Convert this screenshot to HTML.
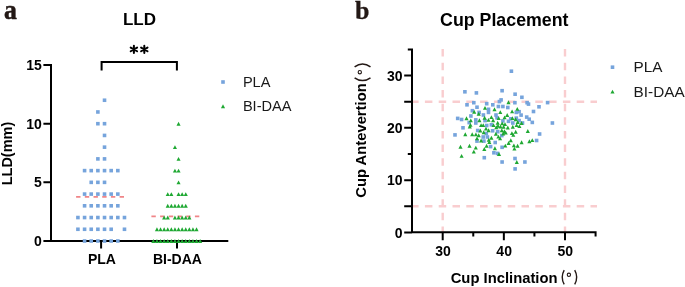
<!DOCTYPE html>
<html><head><meta charset="utf-8"><style>
html,body{margin:0;padding:0;background:#fff;width:685px;height:287px;overflow:hidden}
svg{display:block;will-change:transform}
text{font-family:"Liberation Sans",sans-serif;fill:#000}
.b{font-weight:bold}
.serif{font-family:"Liberation Serif",serif;font-weight:bold;fill:#231815}
.r{font-weight:normal;fill:#1a1a1a}
</style></head><body>
<svg width="685" height="287" viewBox="0 0 685 287">
<rect width="685" height="287" fill="#fff"/>
<text transform="translate(4.1 18.5) scale(0.92 1)" class="serif" font-size="28" stroke="#231815" stroke-width="0.5">a</text>
<text transform="translate(355 18.8)" class="serif" font-size="26" stroke="#231815" stroke-width="0.3">b</text>
<text x="139.5" y="24.7" text-anchor="middle" class="b" font-size="17">LLD</text>
<text x="504.3" y="26" text-anchor="middle" class="b" font-size="17.8">Cup Placement</text>
<path d="M133.90 45.80V53.00M130.70 47.55L137.10 51.25M130.70 51.25L137.10 47.55" stroke="#000" stroke-width="2" stroke-linecap="round"/>
<path d="M144.30 45.80V53.00M141.10 47.55L147.50 51.25M141.10 51.25L147.50 47.55" stroke="#000" stroke-width="2" stroke-linecap="round"/>
<path d="M101.6 70.6V62H176.9V70.6" fill="none" stroke="#000" stroke-width="2"/>
<path d="M51 64V242M43.4 65H51M43.4 123.65H51M43.4 182.35H51M43.4 241H228.3M101.1 241V248.6M177 241V248.6" fill="none" stroke="#000" stroke-width="2"/>
<text x="41.8" y="70.15" text-anchor="end" class="b" font-size="14">15</text>
<text x="41.8" y="128.80" text-anchor="end" class="b" font-size="14">10</text>
<text x="41.8" y="187.45" text-anchor="end" class="b" font-size="14">5</text>
<text x="41.8" y="246.10" text-anchor="end" class="b" font-size="14">0</text>
<text x="101.9" y="264" text-anchor="middle" class="b" font-size="14">PLA</text>
<text x="177.4" y="264" text-anchor="middle" class="b" font-size="14">BI-DAA</text>
<text transform="translate(12.4 153.5) rotate(-90)" text-anchor="middle" class="b" font-size="14.5">LLD(mm)</text>
<path d="M76.1 196.8H125" stroke="#f08588" stroke-width="1.7" stroke-dasharray="4.4 4.3"/>
<path d="M151.4 216.3H200.5" stroke="#f08588" stroke-width="1.7" stroke-dasharray="4.4 4.3"/>
<rect x="102.73" y="98.44" width="3.6" height="3.6" fill="#76a4dc"/>
<rect x="96.08" y="110.17" width="3.6" height="3.6" fill="#76a4dc"/>
<rect x="96.08" y="121.90" width="3.6" height="3.6" fill="#76a4dc"/>
<rect x="102.73" y="121.90" width="3.6" height="3.6" fill="#76a4dc"/>
<rect x="102.73" y="133.63" width="3.6" height="3.6" fill="#76a4dc"/>
<rect x="102.73" y="145.36" width="3.6" height="3.6" fill="#76a4dc"/>
<rect x="96.08" y="157.09" width="3.6" height="3.6" fill="#76a4dc"/>
<rect x="102.73" y="157.09" width="3.6" height="3.6" fill="#76a4dc"/>
<rect x="82.78" y="168.82" width="3.6" height="3.6" fill="#76a4dc"/>
<rect x="89.42" y="168.82" width="3.6" height="3.6" fill="#76a4dc"/>
<rect x="96.08" y="168.82" width="3.6" height="3.6" fill="#76a4dc"/>
<rect x="102.73" y="168.82" width="3.6" height="3.6" fill="#76a4dc"/>
<rect x="109.38" y="168.82" width="3.6" height="3.6" fill="#76a4dc"/>
<rect x="116.03" y="168.82" width="3.6" height="3.6" fill="#76a4dc"/>
<rect x="89.42" y="180.55" width="3.6" height="3.6" fill="#76a4dc"/>
<rect x="96.08" y="180.55" width="3.6" height="3.6" fill="#76a4dc"/>
<rect x="102.73" y="180.55" width="3.6" height="3.6" fill="#76a4dc"/>
<rect x="82.78" y="192.28" width="3.6" height="3.6" fill="#76a4dc"/>
<rect x="89.42" y="192.28" width="3.6" height="3.6" fill="#76a4dc"/>
<rect x="96.08" y="192.28" width="3.6" height="3.6" fill="#76a4dc"/>
<rect x="102.73" y="192.28" width="3.6" height="3.6" fill="#76a4dc"/>
<rect x="109.38" y="192.28" width="3.6" height="3.6" fill="#76a4dc"/>
<rect x="116.03" y="192.28" width="3.6" height="3.6" fill="#76a4dc"/>
<rect x="82.78" y="204.01" width="3.6" height="3.6" fill="#76a4dc"/>
<rect x="89.42" y="204.01" width="3.6" height="3.6" fill="#76a4dc"/>
<rect x="96.08" y="204.01" width="3.6" height="3.6" fill="#76a4dc"/>
<rect x="102.73" y="204.01" width="3.6" height="3.6" fill="#76a4dc"/>
<rect x="109.38" y="204.01" width="3.6" height="3.6" fill="#76a4dc"/>
<rect x="116.03" y="204.01" width="3.6" height="3.6" fill="#76a4dc"/>
<rect x="76.12" y="215.74" width="3.6" height="3.6" fill="#76a4dc"/>
<rect x="82.78" y="215.74" width="3.6" height="3.6" fill="#76a4dc"/>
<rect x="89.42" y="215.74" width="3.6" height="3.6" fill="#76a4dc"/>
<rect x="96.08" y="215.74" width="3.6" height="3.6" fill="#76a4dc"/>
<rect x="102.73" y="215.74" width="3.6" height="3.6" fill="#76a4dc"/>
<rect x="109.38" y="215.74" width="3.6" height="3.6" fill="#76a4dc"/>
<rect x="116.03" y="215.74" width="3.6" height="3.6" fill="#76a4dc"/>
<rect x="122.68" y="215.74" width="3.6" height="3.6" fill="#76a4dc"/>
<rect x="76.12" y="227.47" width="3.6" height="3.6" fill="#76a4dc"/>
<rect x="82.78" y="227.47" width="3.6" height="3.6" fill="#76a4dc"/>
<rect x="89.42" y="227.47" width="3.6" height="3.6" fill="#76a4dc"/>
<rect x="96.08" y="227.47" width="3.6" height="3.6" fill="#76a4dc"/>
<rect x="102.73" y="227.47" width="3.6" height="3.6" fill="#76a4dc"/>
<rect x="109.38" y="227.47" width="3.6" height="3.6" fill="#76a4dc"/>
<rect x="122.68" y="227.47" width="3.6" height="3.6" fill="#76a4dc"/>
<rect x="82.78" y="239.20" width="3.6" height="3.6" fill="#76a4dc"/>
<rect x="89.42" y="239.20" width="3.6" height="3.6" fill="#76a4dc"/>
<rect x="96.08" y="239.20" width="3.6" height="3.6" fill="#76a4dc"/>
<rect x="102.73" y="239.20" width="3.6" height="3.6" fill="#76a4dc"/>
<rect x="109.38" y="239.20" width="3.6" height="3.6" fill="#76a4dc"/>
<rect x="116.03" y="239.20" width="3.6" height="3.6" fill="#76a4dc"/>
<path d="M178.55 121.75L180.60 125.65L176.50 125.65Z" fill="#1ea832"/>
<path d="M174.95 145.21L177.00 149.11L172.90 149.11Z" fill="#1ea832"/>
<path d="M178.55 156.94L180.60 160.84L176.50 160.84Z" fill="#1ea832"/>
<path d="M174.95 168.67L177.00 172.57L172.90 172.57Z" fill="#1ea832"/>
<path d="M178.55 168.67L180.60 172.57L176.50 172.57Z" fill="#1ea832"/>
<path d="M178.55 180.40L180.60 184.30L176.50 184.30Z" fill="#1ea832"/>
<path d="M167.75 192.13L169.80 196.03L165.70 196.03Z" fill="#1ea832"/>
<path d="M171.35 192.13L173.40 196.03L169.30 196.03Z" fill="#1ea832"/>
<path d="M178.55 192.13L180.60 196.03L176.50 196.03Z" fill="#1ea832"/>
<path d="M182.15 192.13L184.20 196.03L180.10 196.03Z" fill="#1ea832"/>
<path d="M185.75 192.13L187.80 196.03L183.70 196.03Z" fill="#1ea832"/>
<path d="M167.75 203.86L169.80 207.76L165.70 207.76Z" fill="#1ea832"/>
<path d="M171.35 203.86L173.40 207.76L169.30 207.76Z" fill="#1ea832"/>
<path d="M174.95 203.86L177.00 207.76L172.90 207.76Z" fill="#1ea832"/>
<path d="M178.55 203.86L180.60 207.76L176.50 207.76Z" fill="#1ea832"/>
<path d="M182.15 203.86L184.20 207.76L180.10 207.76Z" fill="#1ea832"/>
<path d="M185.75 203.86L187.80 207.76L183.70 207.76Z" fill="#1ea832"/>
<path d="M164.15 215.59L166.20 219.49L162.10 219.49Z" fill="#1ea832"/>
<path d="M167.75 215.59L169.80 219.49L165.70 219.49Z" fill="#1ea832"/>
<path d="M174.95 215.59L177.00 219.49L172.90 219.49Z" fill="#1ea832"/>
<path d="M178.55 215.59L180.60 219.49L176.50 219.49Z" fill="#1ea832"/>
<path d="M182.15 215.59L184.20 219.49L180.10 219.49Z" fill="#1ea832"/>
<path d="M185.75 215.59L187.80 219.49L183.70 219.49Z" fill="#1ea832"/>
<path d="M189.35 215.59L191.40 219.49L187.30 219.49Z" fill="#1ea832"/>
<path d="M156.95 227.32L159.00 231.22L154.90 231.22Z" fill="#1ea832"/>
<path d="M160.55 227.32L162.60 231.22L158.50 231.22Z" fill="#1ea832"/>
<path d="M164.15 227.32L166.20 231.22L162.10 231.22Z" fill="#1ea832"/>
<path d="M167.75 227.32L169.80 231.22L165.70 231.22Z" fill="#1ea832"/>
<path d="M171.35 227.32L173.40 231.22L169.30 231.22Z" fill="#1ea832"/>
<path d="M174.95 227.32L177.00 231.22L172.90 231.22Z" fill="#1ea832"/>
<path d="M178.55 227.32L180.60 231.22L176.50 231.22Z" fill="#1ea832"/>
<path d="M182.15 227.32L184.20 231.22L180.10 231.22Z" fill="#1ea832"/>
<path d="M185.75 227.32L187.80 231.22L183.70 231.22Z" fill="#1ea832"/>
<path d="M189.35 227.32L191.40 231.22L187.30 231.22Z" fill="#1ea832"/>
<path d="M192.95 227.32L195.00 231.22L190.90 231.22Z" fill="#1ea832"/>
<path d="M196.55 227.32L198.60 231.22L194.50 231.22Z" fill="#1ea832"/>
<path d="M153.35 239.05L155.40 242.95L151.30 242.95Z" fill="#1ea832"/>
<path d="M156.95 239.05L159.00 242.95L154.90 242.95Z" fill="#1ea832"/>
<path d="M160.55 239.05L162.60 242.95L158.50 242.95Z" fill="#1ea832"/>
<path d="M164.15 239.05L166.20 242.95L162.10 242.95Z" fill="#1ea832"/>
<path d="M167.75 239.05L169.80 242.95L165.70 242.95Z" fill="#1ea832"/>
<path d="M171.35 239.05L173.40 242.95L169.30 242.95Z" fill="#1ea832"/>
<path d="M174.95 239.05L177.00 242.95L172.90 242.95Z" fill="#1ea832"/>
<path d="M178.55 239.05L180.60 242.95L176.50 242.95Z" fill="#1ea832"/>
<path d="M182.15 239.05L184.20 242.95L180.10 242.95Z" fill="#1ea832"/>
<path d="M185.75 239.05L187.80 242.95L183.70 242.95Z" fill="#1ea832"/>
<path d="M189.35 239.05L191.40 242.95L187.30 242.95Z" fill="#1ea832"/>
<path d="M192.95 239.05L195.00 242.95L190.90 242.95Z" fill="#1ea832"/>
<path d="M196.55 239.05L198.60 242.95L194.50 242.95Z" fill="#1ea832"/>
<path d="M200.15 239.05L202.20 242.95L198.10 242.95Z" fill="#1ea832"/>
<rect x="221.20" y="80.20" width="3.6" height="3.6" fill="#76a4dc"/>
<text x="242.9" y="86.9" class="r" font-size="14.6">PLA</text>
<path d="M223.00 104.25L225.05 108.15L220.95 108.15Z" fill="#1ea832"/>
<text x="242.9" y="111.1" class="r" font-size="14.6">BI-DAA</text>
<path d="M442.70 49.1V232" stroke="#f9cdcf" stroke-width="2.4" stroke-dasharray="7.5 6.14"/>
<path d="M565.00 49.1V232" stroke="#f9cdcf" stroke-width="2.4" stroke-dasharray="7.5 6.14"/>
<path d="M411.1 101.70H597" stroke="#f9cdcf" stroke-width="2.4" stroke-dasharray="7.5 6.3"/>
<path d="M411.1 206.30H597" stroke="#f9cdcf" stroke-width="2.4" stroke-dasharray="7.5 6.3"/>
<path d="M412 48.6V233.3M411 232.3H596.58M595.58 232.3V236.6M404.2 75.55H412M404.2 127.85H412M404.2 180.15H412M404.2 232.45H412M404.2 101.70H412M404.2 206.30H412M407.8 49.40H412M407.8 154.00H412M442.70 232.3V240.3M503.85 232.3V240.3M565.00 232.3V240.3M473.27 232.3V236.6M534.42 232.3V236.6" fill="none" stroke="#000" stroke-width="2"/>
<text x="402.6" y="80.75" text-anchor="end" class="b" font-size="14">30</text>
<text x="402.6" y="133.05" text-anchor="end" class="b" font-size="14">20</text>
<text x="402.6" y="185.35" text-anchor="end" class="b" font-size="14">10</text>
<text x="402.6" y="237.65" text-anchor="end" class="b" font-size="14">0</text>
<text x="443.00" y="255.7" text-anchor="middle" class="b" font-size="14">30</text>
<text x="504.15" y="255.7" text-anchor="middle" class="b" font-size="14">40</text>
<text x="565.30" y="255.7" text-anchor="middle" class="b" font-size="14">50</text>
<text x="450.7" y="282.6" class="b" font-size="14.8">Cup Inclination</text>
<path d="M564.20 270.10Q560.20 277.20 564.20 284.30" fill="none" stroke="#231815" stroke-width="1.4"/><circle cx="568.90" cy="274.80" r="1.65" fill="none" stroke="#231815" stroke-width="1.1"/><path d="M574.70 270.10Q578.70 277.20 574.70 284.30" fill="none" stroke="#231815" stroke-width="1.4"/>
<text transform="translate(365.9 197.8) rotate(-90)" class="b" font-size="14.8">Cup Antevertion</text>
<g transform="translate(365.9 80.6) rotate(-90)"><path d="M2.80 -11.30Q-2.80 -3.35 2.80 4.60" fill="none" stroke="#231815" stroke-width="1.5"/><circle cx="8.40" cy="-6.10" r="1.65" fill="none" stroke="#231815" stroke-width="1.1"/><path d="M13.80 -11.30Q19.40 -3.35 13.80 4.60" fill="none" stroke="#231815" stroke-width="1.5"/></g>
<rect x="509.60" y="69.40" width="3.6" height="3.6" fill="#76a4dc"/>
<rect x="463.10" y="90.00" width="3.6" height="3.6" fill="#76a4dc"/>
<rect x="474.60" y="91.10" width="3.6" height="3.6" fill="#76a4dc"/>
<rect x="500.30" y="88.90" width="3.6" height="3.6" fill="#76a4dc"/>
<rect x="513.30" y="92.40" width="3.6" height="3.6" fill="#76a4dc"/>
<rect x="520.10" y="95.50" width="3.6" height="3.6" fill="#76a4dc"/>
<rect x="465.20" y="103.00" width="3.6" height="3.6" fill="#76a4dc"/>
<rect x="545.80" y="100.80" width="3.6" height="3.6" fill="#76a4dc"/>
<rect x="537.20" y="105.00" width="3.6" height="3.6" fill="#76a4dc"/>
<rect x="531.70" y="109.70" width="3.6" height="3.6" fill="#76a4dc"/>
<rect x="530.50" y="120.60" width="3.6" height="3.6" fill="#76a4dc"/>
<rect x="550.60" y="121.20" width="3.6" height="3.6" fill="#76a4dc"/>
<rect x="537.80" y="132.20" width="3.6" height="3.6" fill="#76a4dc"/>
<rect x="534.80" y="138.70" width="3.6" height="3.6" fill="#76a4dc"/>
<rect x="488.80" y="144.80" width="3.6" height="3.6" fill="#76a4dc"/>
<rect x="500.30" y="145.50" width="3.6" height="3.6" fill="#76a4dc"/>
<rect x="492.10" y="151.00" width="3.6" height="3.6" fill="#76a4dc"/>
<rect x="495.80" y="151.60" width="3.6" height="3.6" fill="#76a4dc"/>
<rect x="482.50" y="155.90" width="3.6" height="3.6" fill="#76a4dc"/>
<rect x="500.30" y="160.20" width="3.6" height="3.6" fill="#76a4dc"/>
<rect x="513.20" y="156.70" width="3.6" height="3.6" fill="#76a4dc"/>
<rect x="523.10" y="160.20" width="3.6" height="3.6" fill="#76a4dc"/>
<rect x="513.30" y="167.10" width="3.6" height="3.6" fill="#76a4dc"/>
<rect x="472.00" y="100.90" width="3.6" height="3.6" fill="#76a4dc"/>
<rect x="484.90" y="101.90" width="3.6" height="3.6" fill="#76a4dc"/>
<rect x="475.20" y="105.40" width="3.6" height="3.6" fill="#76a4dc"/>
<rect x="470.60" y="108.90" width="3.6" height="3.6" fill="#76a4dc"/>
<rect x="477.30" y="110.60" width="3.6" height="3.6" fill="#76a4dc"/>
<rect x="486.70" y="107.50" width="3.6" height="3.6" fill="#76a4dc"/>
<rect x="486.70" y="110.60" width="3.6" height="3.6" fill="#76a4dc"/>
<rect x="481.60" y="113.20" width="3.6" height="3.6" fill="#76a4dc"/>
<rect x="469.10" y="114.20" width="3.6" height="3.6" fill="#76a4dc"/>
<rect x="499.30" y="98.10" width="3.6" height="3.6" fill="#76a4dc"/>
<rect x="497.60" y="99.80" width="3.6" height="3.6" fill="#76a4dc"/>
<rect x="491.00" y="103.00" width="3.6" height="3.6" fill="#76a4dc"/>
<rect x="496.60" y="104.70" width="3.6" height="3.6" fill="#76a4dc"/>
<rect x="501.10" y="104.70" width="3.6" height="3.6" fill="#76a4dc"/>
<rect x="506.00" y="105.70" width="3.6" height="3.6" fill="#76a4dc"/>
<rect x="494.20" y="113.20" width="3.6" height="3.6" fill="#76a4dc"/>
<rect x="513.10" y="100.90" width="3.6" height="3.6" fill="#76a4dc"/>
<rect x="525.30" y="100.90" width="3.6" height="3.6" fill="#76a4dc"/>
<rect x="526.70" y="102.30" width="3.6" height="3.6" fill="#76a4dc"/>
<rect x="514.50" y="110.60" width="3.6" height="3.6" fill="#76a4dc"/>
<rect x="517.30" y="109.90" width="3.6" height="3.6" fill="#76a4dc"/>
<rect x="519.30" y="113.30" width="3.6" height="3.6" fill="#76a4dc"/>
<rect x="474.00" y="118.10" width="3.6" height="3.6" fill="#76a4dc"/>
<rect x="474.00" y="121.20" width="3.6" height="3.6" fill="#76a4dc"/>
<rect x="483.20" y="118.80" width="3.6" height="3.6" fill="#76a4dc"/>
<rect x="484.90" y="123.70" width="3.6" height="3.6" fill="#76a4dc"/>
<rect x="475.90" y="128.70" width="3.6" height="3.6" fill="#76a4dc"/>
<rect x="484.50" y="131.70" width="3.6" height="3.6" fill="#76a4dc"/>
<rect x="495.20" y="116.00" width="3.6" height="3.6" fill="#76a4dc"/>
<rect x="501.10" y="119.10" width="3.6" height="3.6" fill="#76a4dc"/>
<rect x="506.70" y="119.50" width="3.6" height="3.6" fill="#76a4dc"/>
<rect x="490.80" y="129.00" width="3.6" height="3.6" fill="#76a4dc"/>
<rect x="489.60" y="123.00" width="3.6" height="3.6" fill="#76a4dc"/>
<rect x="495.90" y="129.90" width="3.6" height="3.6" fill="#76a4dc"/>
<rect x="524.90" y="115.30" width="3.6" height="3.6" fill="#76a4dc"/>
<rect x="527.40" y="117.40" width="3.6" height="3.6" fill="#76a4dc"/>
<rect x="508.90" y="117.00" width="3.6" height="3.6" fill="#76a4dc"/>
<rect x="514.50" y="116.30" width="3.6" height="3.6" fill="#76a4dc"/>
<rect x="517.30" y="118.80" width="3.6" height="3.6" fill="#76a4dc"/>
<rect x="511.00" y="121.20" width="3.6" height="3.6" fill="#76a4dc"/>
<rect x="520.70" y="121.20" width="3.6" height="3.6" fill="#76a4dc"/>
<rect x="455.90" y="116.60" width="3.6" height="3.6" fill="#76a4dc"/>
<rect x="459.80" y="117.70" width="3.6" height="3.6" fill="#76a4dc"/>
<rect x="461.20" y="126.00" width="3.6" height="3.6" fill="#76a4dc"/>
<rect x="467.40" y="120.80" width="3.6" height="3.6" fill="#76a4dc"/>
<rect x="453.20" y="133.10" width="3.6" height="3.6" fill="#76a4dc"/>
<rect x="475.20" y="139.30" width="3.6" height="3.6" fill="#76a4dc"/>
<rect x="482.10" y="139.30" width="3.6" height="3.6" fill="#76a4dc"/>
<rect x="485.60" y="135.20" width="3.6" height="3.6" fill="#76a4dc"/>
<rect x="481.40" y="135.20" width="3.6" height="3.6" fill="#76a4dc"/>
<rect x="500.00" y="133.80" width="3.6" height="3.6" fill="#76a4dc"/>
<rect x="493.40" y="140.70" width="3.6" height="3.6" fill="#76a4dc"/>
<path d="M485.00 105.95L487.05 109.85L482.95 109.85Z" fill="#1ea832"/>
<path d="M474.20 109.75L476.25 113.65L472.15 113.65Z" fill="#1ea832"/>
<path d="M478.70 111.75L480.75 115.65L476.65 115.65Z" fill="#1ea832"/>
<path d="M508.50 100.35L510.55 104.25L506.45 104.25Z" fill="#1ea832"/>
<path d="M494.50 107.35L496.55 111.25L492.45 111.25Z" fill="#1ea832"/>
<path d="M500.30 110.15L502.35 114.05L498.25 114.05Z" fill="#1ea832"/>
<path d="M507.20 113.05L509.25 116.95L505.15 116.95Z" fill="#1ea832"/>
<path d="M517.30 106.95L519.35 110.85L515.25 110.85Z" fill="#1ea832"/>
<path d="M512.10 109.45L514.15 113.35L510.05 113.35Z" fill="#1ea832"/>
<path d="M470.80 118.45L472.85 122.35L468.75 122.35Z" fill="#1ea832"/>
<path d="M479.40 118.25L481.45 122.15L477.35 122.15Z" fill="#1ea832"/>
<path d="M484.60 115.85L486.65 119.75L482.55 119.75Z" fill="#1ea832"/>
<path d="M488.50 117.95L490.55 121.85L486.45 121.85Z" fill="#1ea832"/>
<path d="M470.50 122.95L472.55 126.85L468.45 126.85Z" fill="#1ea832"/>
<path d="M481.10 123.15L483.15 127.05L479.05 127.05Z" fill="#1ea832"/>
<path d="M483.20 123.15L485.25 127.05L481.15 127.05Z" fill="#1ea832"/>
<path d="M480.30 128.55L482.35 132.45L478.25 132.45Z" fill="#1ea832"/>
<path d="M486.00 126.65L488.05 130.55L483.95 130.55Z" fill="#1ea832"/>
<path d="M483.70 130.25L485.75 134.15L481.65 134.15Z" fill="#1ea832"/>
<path d="M488.60 128.25L490.65 132.15L486.55 132.15Z" fill="#1ea832"/>
<path d="M472.20 132.25L474.25 136.15L470.15 136.15Z" fill="#1ea832"/>
<path d="M475.90 132.45L477.95 136.35L473.85 136.35Z" fill="#1ea832"/>
<path d="M491.40 115.15L493.45 119.05L489.35 119.05Z" fill="#1ea832"/>
<path d="M498.70 116.15L500.75 120.05L496.65 120.05Z" fill="#1ea832"/>
<path d="M504.60 115.45L506.65 119.35L502.55 119.35Z" fill="#1ea832"/>
<path d="M493.10 118.25L495.15 122.15L491.05 122.15Z" fill="#1ea832"/>
<path d="M497.70 120.75L499.75 124.65L495.65 124.65Z" fill="#1ea832"/>
<path d="M502.20 121.45L504.25 125.35L500.15 125.35Z" fill="#1ea832"/>
<path d="M505.00 122.15L507.05 126.05L502.95 126.05Z" fill="#1ea832"/>
<path d="M493.50 123.15L495.55 127.05L491.45 127.05Z" fill="#1ea832"/>
<path d="M498.00 123.85L500.05 127.75L495.95 127.75Z" fill="#1ea832"/>
<path d="M500.50 124.55L502.55 128.45L498.45 128.45Z" fill="#1ea832"/>
<path d="M496.30 125.25L498.35 129.15L494.25 129.15Z" fill="#1ea832"/>
<path d="M503.60 124.85L505.65 128.75L501.55 128.75Z" fill="#1ea832"/>
<path d="M507.80 125.55L509.85 129.45L505.75 129.45Z" fill="#1ea832"/>
<path d="M501.80 128.35L503.85 132.25L499.75 132.25Z" fill="#1ea832"/>
<path d="M504.40 129.25L506.45 133.15L502.35 133.15Z" fill="#1ea832"/>
<path d="M495.90 131.85L497.95 135.75L493.85 135.75Z" fill="#1ea832"/>
<path d="M503.20 131.55L505.25 135.45L501.15 135.45Z" fill="#1ea832"/>
<path d="M505.70 130.65L507.75 134.55L503.65 134.55Z" fill="#1ea832"/>
<path d="M512.40 116.15L514.45 120.05L510.35 120.05Z" fill="#1ea832"/>
<path d="M515.60 117.25L517.65 121.15L513.55 121.15Z" fill="#1ea832"/>
<path d="M517.70 120.05L519.75 123.95L515.65 123.95Z" fill="#1ea832"/>
<path d="M521.50 121.05L523.55 124.95L519.45 124.95Z" fill="#1ea832"/>
<path d="M516.60 123.15L518.65 127.05L514.55 127.05Z" fill="#1ea832"/>
<path d="M519.40 124.15L521.45 128.05L517.35 128.05Z" fill="#1ea832"/>
<path d="M512.80 124.85L514.85 128.75L510.75 128.75Z" fill="#1ea832"/>
<path d="M527.80 129.05L529.85 132.95L525.75 132.95Z" fill="#1ea832"/>
<path d="M515.70 129.75L517.75 133.65L513.65 133.65Z" fill="#1ea832"/>
<path d="M511.90 131.15L513.95 135.05L509.85 135.05Z" fill="#1ea832"/>
<path d="M513.30 132.95L515.35 136.85L511.25 136.85Z" fill="#1ea832"/>
<path d="M466.50 116.35L468.55 120.25L464.45 120.25Z" fill="#1ea832"/>
<path d="M469.80 124.55L471.85 128.45L467.75 128.45Z" fill="#1ea832"/>
<path d="M465.30 132.25L467.35 136.15L463.25 136.15Z" fill="#1ea832"/>
<path d="M460.50 144.75L462.55 148.65L458.45 148.65Z" fill="#1ea832"/>
<path d="M469.50 143.75L471.55 147.65L467.45 147.65Z" fill="#1ea832"/>
<path d="M478.70 133.25L480.75 137.15L476.65 137.15Z" fill="#1ea832"/>
<path d="M477.00 136.45L479.05 140.35L474.95 140.35Z" fill="#1ea832"/>
<path d="M481.10 138.55L483.15 142.45L479.05 142.45Z" fill="#1ea832"/>
<path d="M488.80 137.85L490.85 141.75L486.75 141.75Z" fill="#1ea832"/>
<path d="M489.30 140.05L491.35 143.95L487.25 143.95Z" fill="#1ea832"/>
<path d="M475.80 145.65L477.85 149.55L473.75 149.55Z" fill="#1ea832"/>
<path d="M486.60 143.85L488.65 147.75L484.55 147.75Z" fill="#1ea832"/>
<path d="M484.30 147.05L486.35 150.95L482.25 150.95Z" fill="#1ea832"/>
<path d="M498.40 134.65L500.45 138.55L496.35 138.55Z" fill="#1ea832"/>
<path d="M500.10 136.45L502.15 140.35L498.05 140.35Z" fill="#1ea832"/>
<path d="M491.40 135.75L493.45 139.65L489.35 139.65Z" fill="#1ea832"/>
<path d="M508.60 141.05L510.65 144.95L506.55 144.95Z" fill="#1ea832"/>
<path d="M505.30 143.65L507.35 147.55L503.25 147.55Z" fill="#1ea832"/>
<path d="M494.90 146.25L496.95 150.15L492.85 150.15Z" fill="#1ea832"/>
<path d="M510.80 138.35L512.85 142.25L508.75 142.25Z" fill="#1ea832"/>
<path d="M521.60 140.25L523.65 144.15L519.55 144.15Z" fill="#1ea832"/>
<path d="M529.40 139.25L531.45 143.15L527.35 143.15Z" fill="#1ea832"/>
<path d="M532.30 138.15L534.35 142.05L530.25 142.05Z" fill="#1ea832"/>
<path d="M513.90 143.45L515.95 147.35L511.85 147.35Z" fill="#1ea832"/>
<path d="M517.60 143.85L519.65 147.75L515.55 147.75Z" fill="#1ea832"/>
<path d="M514.40 146.65L516.45 150.55L512.35 150.55Z" fill="#1ea832"/>
<path d="M473.80 149.65L475.85 153.55L471.75 153.55Z" fill="#1ea832"/>
<path d="M461.60 153.95L463.65 157.85L459.55 157.85Z" fill="#1ea832"/>
<path d="M499.00 152.05L501.05 155.95L496.95 155.95Z" fill="#1ea832"/>
<path d="M516.80 160.05L518.85 163.95L514.75 163.95Z" fill="#1ea832"/>
<rect x="610.70" y="65.40" width="3.6" height="3.6" fill="#76a4dc"/>
<text x="633.6" y="71.7" class="r" font-size="15.3">PLA</text>
<path d="M612.50 89.65L614.55 93.55L610.45 93.55Z" fill="#1ea832"/>
<text x="633.6" y="96.6" class="r" font-size="15.3">BI-DAA</text>
</svg>
</body></html>
